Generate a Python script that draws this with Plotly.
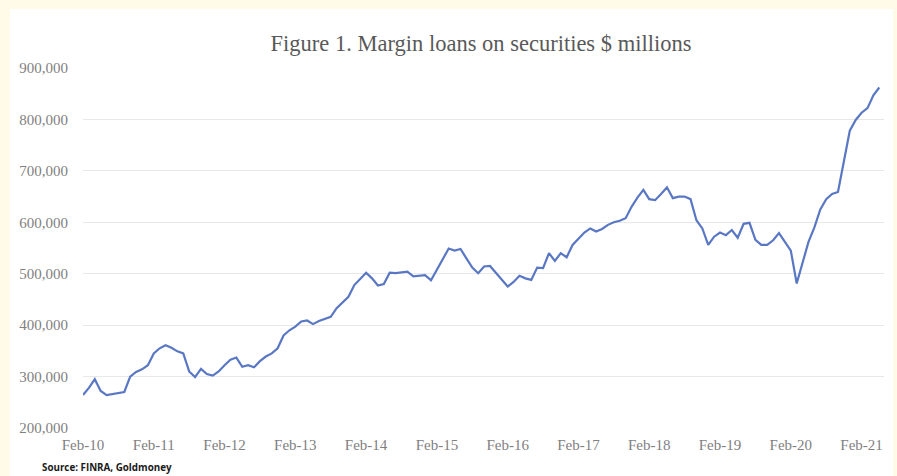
import plotly.graph_objects as go

months = ["Feb", "Mar", "Apr", "May", "Jun", "Jul", "Aug", "Sep", "Oct", "Nov", "Dec", "Jan"]

# Monthly categories Feb-10 .. May-21
categories = []
for yr in range(10, 22):
    for j, m in enumerate(months):
        y = yr + 1 if m == "Jan" else yr
        categories.append(f"{m}-{y:02d}")
categories = categories[:136]

margin_loans = [
    264000, 278000, 295000, 272000, 264000, 266000, 268000, 270000, 300000, 309000, 314000, 322000,
    345000, 355000, 361000, 356000, 349000, 345000, 310000, 299000, 315000, 305000, 302000, 310000,
    322000, 333000, 337000, 319000, 322000, 318000, 330000, 339000, 345000, 355000, 380000, 390000,
    397000, 407000, 409000, 402000, 408000, 412000, 416000, 433000, 445000, 455000, 478000, 490000,
    502000, 491000, 477000, 480000, 502000, 501000, 503000, 504000, 495000, 496000, 497000, 487000,
    507000, 527000, 549000, 545000, 548000, 530000, 512000, 501000, 514000, 515000, 502000, 487000,
    475000, 484000, 496000, 491000, 488000, 512000, 511000, 540000, 525000, 540000, 532000, 556000,
    569000, 580000, 588000, 582000, 587000, 595000, 600000, 603000, 608000, 630000, 648000, 663000,
    645000, 643000, 655000, 668000, 647000, 650000, 650000, 645000, 604000, 588000, 556000, 572000,
    580000, 575000, 585000, 570000, 597000, 599000, 566000, 556000, 556000, 565000, 579000, 562000,
    545000, 481000, 520000, 562000, 590000, 625000, 645000, 655000, 659000, 722000, 778000, 799000,
    813000, 822000, 847000, 862000,
]

x_ticks = ["Feb-10", "Feb-11", "Feb-12", "Feb-13", "Feb-14", "Feb-15", "Feb-16",
           "Feb-17", "Feb-18", "Feb-19", "Feb-20", "Feb-21"]
y_ticks = [200000, 300000, 400000, 500000, 600000, 700000, 800000, 900000]
y_tick_text = [f"{v:,}" for v in y_ticks]

title_text = "Figure 1. Margin loans on securities $ millions"
source_text = "Source: FINRA, Goldmoney"

W, H = 897, 476
L, R, T, B = 83, 13, 68, 48
pw, ph = W - L - R, H - T - B

fig = go.Figure()
fig.add_trace(go.Scatter(
    x=categories, y=margin_loans, mode="lines",
    line=dict(color="#5A77C4", width=2.2), hoverinfo="skip", showlegend=False,
))

# white panel on cream background
fig.add_shape(type="rect", xref="paper", yref="paper", layer="below",
              x0=(10 - L) / pw, x1=(893 - L) / pw,
              y0=(H - B - H) / ph, y1=(H - B - 9) / ph,
              fillcolor="white", line=dict(width=0))

fig.update_layout(
    width=W, height=H,
    margin=dict(l=L, r=R, t=T, b=B),
    paper_bgcolor="#FFFBE8",
    plot_bgcolor="rgba(0,0,0,0)",
    title=dict(text=title_text, x=(481 - L) / pw, xref="paper", xanchor="center",
               y=1 - 43 / H, yref="container", yanchor="middle",
               font=dict(family="Liberation Serif", size=22.5, color="#595959")),
    xaxis=dict(type="category", range=[0, 135.8], tickmode="array", tickvals=x_ticks,
               ticktext=x_ticks, showgrid=False, showline=False, zeroline=False,
               ticks="", ticklabelstandoff=6,
               tickfont=dict(family="Liberation Serif", size=15, color="#7F7F7F")),
    yaxis=dict(range=[200000, 900000], tickmode="array", tickvals=y_ticks,
               ticktext=y_tick_text, showgrid=True, gridcolor="#E8E8E8", gridwidth=1,
               zeroline=False, showline=False, ticks="", ticklabelstandoff=14,
               tickfont=dict(family="Liberation Serif", size=15, color="#7F7F7F")),
    annotations=[dict(text=f"<b>{source_text}</b>", xref="paper", yref="paper",
                      x=(40 - L) / pw, y=(H - B - 467) / ph, xanchor="left", yanchor="middle",
                      showarrow=False,
                      font=dict(family="Open Sans", size=9.8, color="#1a1a1a"))],
)

fig.write_html("out.html")
